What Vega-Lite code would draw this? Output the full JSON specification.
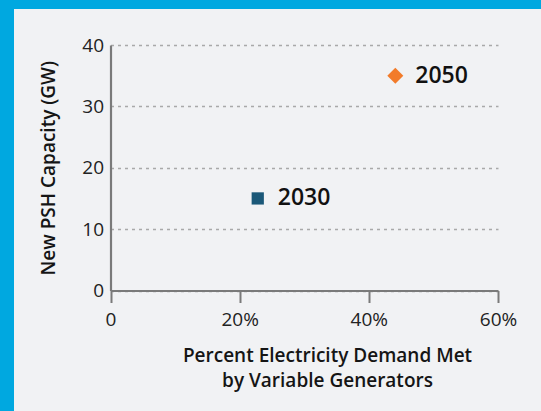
{
  "$schema": "https://vega.github.io/schema/vega-lite/v6.json",
  "autosize": {"type": "none"},
  "padding": {"left": 14, "top": 9, "right": 0, "bottom": 0},
  "width": 527,
  "height": 402,
  "background": "#00A8E0",
  "config": {
    "view": {"fill": "#F1F2F4", "stroke": null},
    "font": "Open Sans",
    "axis": {
      "domainColor": "#7A7A7A",
      "domainWidth": 2.2,
      "tickColor": "#7A7A7A",
      "tickWidth": 2,
      "labelFont": "Open Sans",
      "labelFontSize": 19,
      "labelColor": "#222222",
      "labelFlush": false,
      "titleFont": "Open Sans",
      "titleFontWeight": 600,
      "titleFontSize": 19,
      "titleColor": "#151515"
    }
  },
  "data": {
    "values": [
      {"year": "2030", "vre": 0.228, "psh": 15},
      {"year": "2050", "vre": 0.441, "psh": 35}
    ]
  },
  "encoding": {
    "x": {
      "field": "vre",
      "type": "quantitative",
      "scale": {"domain": [0, 0.6], "range": [96.5, 484], "nice": false, "zero": false},
      "axis": {
        "values": [0, 0.2, 0.4, 0.6],
        "labelExpr": "datum.value == 0 ? '0' : format(datum.value, '.0%')",
        "offset": -120.5,
        "grid": false,
        "tickSize": 12,
        "labelPadding": 8,
        "title": ["Percent Electricity Demand Met", "by Variable Generators"],
        "titleLineHeight": 24.5,
        "titleX": 313,
        "titlePadding": 17
      }
    },
    "y": {
      "field": "psh",
      "type": "quantitative",
      "scale": {"domain": [0, 40], "range": [281.5, 36], "nice": false, "zero": false},
      "axis": {
        "values": [0, 10, 20, 30, 40],
        "offset": -96.5,
        "ticks": false,
        "labelPadding": 7,
        "grid": true,
        "gridColor": "#A9A9A9",
        "gridDash": [3, 4],
        "gridWidth": 1.6,
        "title": "New PSH Capacity (GW)",
        "titlePadding": 23
      }
    }
  },
  "layer": [
    {
      "mark": {"type": "point", "filled": true, "opacity": 1},
      "encoding": {
        "shape": {"field": "year", "type": "nominal", "scale": {"domain": ["2030", "2050"], "range": ["square", "diamond"]}, "legend": null},
        "color": {"field": "year", "type": "nominal", "scale": {"domain": ["2030", "2050"], "range": ["#1B5878", "#F27B2A"]}, "legend": null},
        "size": {"field": "year", "type": "nominal", "scale": {"domain": ["2030", "2050"], "range": [150, 256]}, "legend": null}
      }
    },
    {
      "mark": {"type": "text", "align": "left", "baseline": "middle", "dx": 20, "fontSize": 23, "fontWeight": 600, "color": "#111111"},
      "encoding": {"text": {"field": "year"}}
    }
  ]
}
